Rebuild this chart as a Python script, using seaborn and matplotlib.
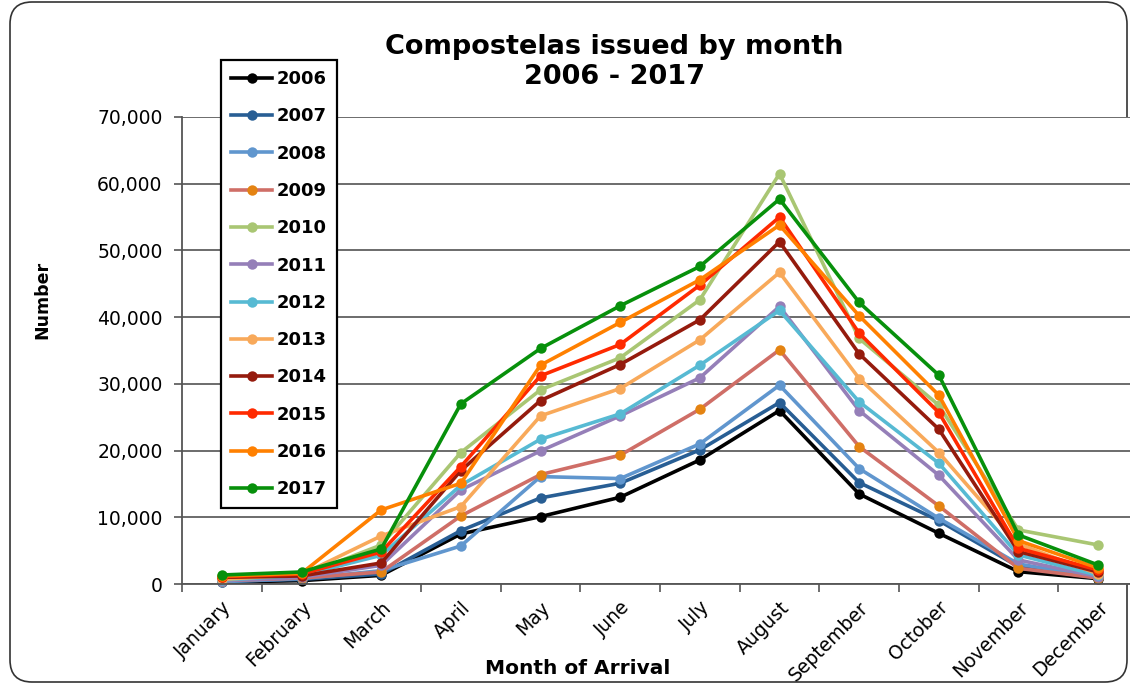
import numpy as np
import pandas as pd
import seaborn as sns
import matplotlib
import matplotlib.pyplot as plt
from matplotlib.lines import Line2D
from matplotlib.patches import FancyBboxPatch
from matplotlib.ticker import FuncFormatter, MultipleLocator

matplotlib.use('Agg')

months = ["January", "February", "March", "April", "May", "June", "July",
          "August", "September", "October", "November", "December"]
years = [str(y) for y in range(2006, 2018)]

# monthly counts
c2006 = [300, 500, 1300, 7500, 10100, 13000, 18600, 26000, 13500, 7600, 1850, 800]
c2007 = [400, 700, 1500, 8000, 12900, 15100, 20100, 27200, 15200, 9500, 2600, 900]
c2008 = [350, 800, 2000, 5700, 16100, 15800, 21000, 29800, 17300, 9850, 3000, 1000]
c2009 = [500, 900, 1800, 10200, 16400, 19300, 26200, 35100, 20600, 11700, 2350, 900]
c2010 = [700, 1200, 5850, 19700, 29100, 33900, 42600, 61500, 36800, 26800, 8100, 5850]
c2011 = [500, 1000, 2800, 14100, 19950, 25200, 30900, 41600, 26000, 16300, 3600, 1100]
c2012 = [600, 1300, 4300, 14800, 21700, 25500, 32800, 41000, 27300, 18100, 4350, 1300]
c2013 = [700, 1400, 7200, 11600, 25200, 29300, 36600, 46700, 30800, 19700, 6000, 1500]
c2014 = [1000, 1200, 3150, 17000, 27500, 32900, 39600, 51300, 34500, 23200, 4850, 1800]
c2015 = [1100, 1500, 4800, 17600, 31200, 35900, 44800, 55000, 37600, 25700, 5350, 2100]
c2016 = [1200, 1600, 11100, 15100, 32800, 39200, 45600, 53800, 40200, 28300, 6500, 2400]
c2017 = [1350, 1800, 5250, 27000, 35300, 41700, 47600, 57700, 42200, 31300, 7350, 2850]
series = [c2006, c2007, c2008, c2009, c2010, c2011, c2012, c2013, c2014, c2015, c2016, c2017]

line_colors = ["#000000", "#285E94", "#6096CE", "#CF6E67", "#A9C673", "#957FB8",
               "#57BAD3", "#F8A95A", "#951B0D", "#FF2A00", "#FF8000", "#07900B"]
marker_override = {"2009": "#E48312"}

df = pd.DataFrame([
    {"month": i, "year": y, "count": v}
    for y, vals in zip(years, series)
    for i, v in enumerate(vals)
])

plt.rcParams['font.family'] = ['DejaVu Sans']

fig = plt.figure(figsize=(11.3, 6.9), dpi=100)
ax = fig.add_axes([182 / 1130, 106 / 690, 956 / 1130, 467 / 690])

sns.lineplot(data=df, x="month", y="count", hue="year", hue_order=years,
             palette=dict(zip(years, line_colors)), marker="o", markersize=7.5,
             markeredgewidth=0, linewidth=2.6, legend=False, ax=ax)

handles = []
for line, y, col in zip(ax.lines, years, line_colors):
    mc = marker_override.get(y, col)
    line.set_markerfacecolor(mc)
    line.set_markeredgecolor(mc)
    line.set_clip_on(False)
    handles.append(Line2D([], [], color=col, lw=2.6, marker="o", markersize=7.5,
                          markerfacecolor=mc, markeredgewidth=0))

ax.set_xlim(-0.5, 11.5)
ax.set_ylim(0, 70000)
ax.yaxis.set_major_locator(MultipleLocator(10000))
ax.yaxis.set_major_formatter(FuncFormatter(lambda v, p: f"{int(v):,}"))
ax.set_xticks(range(12))
ax.set_xticklabels(months, rotation=45, ha="right", rotation_mode="anchor", fontsize=13.5)
ax.set_xticks(np.arange(-0.5, 12, 1), minor=True)
ax.tick_params(axis="x", which="major", length=0, pad=10)
ax.tick_params(axis="x", which="minor", length=6, color="#555555", width=1.2)
ax.tick_params(axis="y", length=6, color="#555555", width=1.2, labelsize=13.5, pad=8)
ax.grid(axis="y", color="#444444", linewidth=1.1)
ax.set_axisbelow(True)
ax.set_xlabel("")
ax.set_ylabel("")
for s in ["top", "right"]:
    ax.spines[s].set_visible(False)
for s in ["left", "bottom"]:
    ax.spines[s].set_color("#555555")
    ax.spines[s].set_linewidth(1.3)

leg = fig.legend(handles, years, loc="upper left",
                 bbox_to_anchor=(221 / 1130, 1 - 60 / 690), borderaxespad=0,
                 prop={"weight": "bold", "size": 13}, handlelength=2.3,
                 handletextpad=0.25, labelspacing=1.07, fancybox=False,
                 framealpha=1, edgecolor="black", borderpad=0.55)
leg.get_frame().set_linewidth(1.6)

fig.text(614 / 1130, 1 - 62 / 690, "Compostelas issued by month\n2006 - 2017",
         ha="center", va="center", fontsize=19.5, fontweight="bold", linespacing=1.25)
fig.text(42 / 1130, 1 - 300 / 690, "Number", rotation=90, ha="center", va="center",
         fontsize=12.5, fontweight="bold")
fig.text(578 / 1130, 1 - 668 / 690, "Month of Arrival", ha="center", va="center",
         fontsize=14.5, fontweight="bold")

frame = FancyBboxPatch((10, 8), 1117, 680, boxstyle="round,pad=0,rounding_size=22",
                       transform=None, facecolor="none", edgecolor="#333333",
                       linewidth=1.2, zorder=-5)
fig.patches.append(frame)

fig.savefig("out.png", dpi=100)
plt.close(fig)
